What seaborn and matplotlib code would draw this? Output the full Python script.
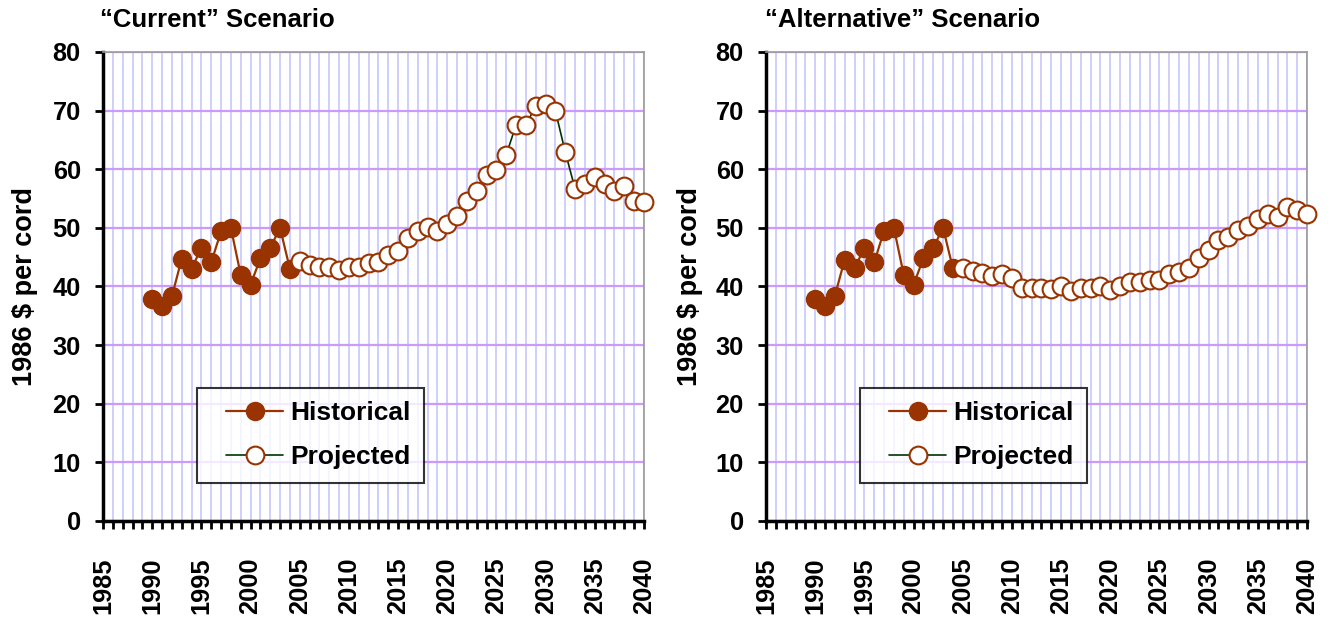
import matplotlib
matplotlib.use("Agg")
import matplotlib.pyplot as plt
from matplotlib.ticker import MultipleLocator
from matplotlib.lines import Line2D
from matplotlib.legend_handler import HandlerLine2D
import numpy as np
import pandas as pd
import seaborn as sns

# ---------------- data ----------------
hist_years = list(range(1990, 2005))
hist_current = [37.8, 36.7, 38.3, 44.7, 43.0, 46.6, 44.1, 49.4, 50.0, 42.0,
                40.3, 44.8, 46.6, 50.0, 43.0]
hist_alternative = [37.8, 36.7, 38.4, 44.6, 43.1, 46.6, 44.1, 49.5, 50.0, 42.0,
                    40.3, 44.8, 46.6, 50.0, 43.1]

proj_years = list(range(2005, 2041))
proj_current = [44.4, 43.6, 43.3, 43.3, 42.8, 43.3, 43.3, 44.0, 44.2, 45.3,
                46.0, 48.2, 49.4, 50.1, 49.5, 50.7, 52.0, 54.6, 56.3, 59.1,
                59.9, 62.5, 67.6, 67.6, 70.8, 71.1, 69.9, 62.9, 56.6, 57.5,
                58.6, 57.5, 56.3, 57.2, 54.6, 54.4]
proj_alternative = [43.1, 42.6, 42.3, 41.8, 42.1, 41.5, 39.7, 39.7, 39.7, 39.5,
                    40.0, 39.3, 39.8, 39.8, 40.0, 39.4, 40.1, 40.7, 40.7, 41.1,
                    41.1, 42.1, 42.4, 43.2, 44.8, 46.3, 48.0, 48.5, 49.6, 50.3,
                    51.5, 52.3, 51.9, 53.6, 53.1, 52.4]

titles = ["\u201cCurrent\u201d Scenario", "\u201cAlternative\u201d Scenario"]
series_labels = ["Historical", "Projected"]
y_label = "1986 $ per cord"
x_tick_values = list(range(1985, 2041, 5))
y_tick_values = list(range(0, 81, 10))

# ---------------- style ----------------
sns.set_theme(style="white")
plt.rcParams["font.family"] = ["Liberation Sans", "DejaVu Sans"]
plt.rcParams["font.weight"] = "bold"
plt.rcParams["text.color"] = "black"
plt.rcParams["axes.labelcolor"] = "black"
plt.rcParams["xtick.color"] = "black"
plt.rcParams["ytick.color"] = "black"

BROWN = "#993300"
GREEN = "#003300"
VGRID = "#CCCCFF"
HGRID = "#CC99FF"
TICK_FS = 18.3
LEG_FS = 19
YLAB_FS = 19.5
TITLE_FS = 18.5


class PaddedLineHandler(HandlerLine2D):
    """Legend line handle that starts a little inside the handle box."""
    def __init__(self, lpad=0.6, **kw):
        super().__init__(**kw)
        self.lpad = lpad

    def get_xdata(self, legend, xdescent, ydescent, width, height, fontsize):
        x0 = -xdescent + self.lpad * fontsize
        x1 = -xdescent + width
        return np.array([x0, x1]), np.array([0.5 * (x0 + x1)])


fig = plt.figure(figsize=(13.32, 6.28), dpi=100)
axes = [fig.add_axes([0.07733, 0.1704, 0.40616, 0.7468]),
        fig.add_axes([0.57508, 0.1704, 0.40616, 0.7468])]

panels = [(hist_current, proj_current), (hist_alternative, proj_alternative)]
ylabel_x = [-0.12, -0.117]
title_x = [-0.0055, -0.002]

for ax, (hv, pv), title, ylx, tx in zip(axes, panels, titles, ylabel_x, title_x):
    dfh = pd.DataFrame({"year": hist_years, "price": hv})
    dfp = pd.DataFrame({"year": proj_years, "price": pv})
    sns.lineplot(data=dfh, x="year", y="price", ax=ax, color=BROWN, lw=1.6,
                 marker="o", markersize=12.8, markerfacecolor=BROWN,
                 markeredgecolor=BROWN, markeredgewidth=1.2,
                 label=series_labels[0], clip_on=False, zorder=3)
    sns.lineplot(data=dfp, x="year", y="price", ax=ax, color=GREEN, lw=1.2,
                 marker="o", markersize=12.8, markerfacecolor="white",
                 markeredgecolor=BROWN, markeredgewidth=1.5,
                 label=series_labels[1], clip_on=False, zorder=4)

    ax.set_xlim(1985, 2040)
    ax.set_ylim(0, 80)
    ax.set_xticks(x_tick_values)
    ax.set_xticklabels([str(v) for v in x_tick_values], rotation=90,
                       fontsize=TICK_FS, fontweight="bold", color="black")
    ax.xaxis.set_minor_locator(MultipleLocator(1))
    ax.set_yticks(y_tick_values)
    ax.set_yticklabels([str(v) for v in y_tick_values], fontsize=TICK_FS,
                       fontweight="bold", color="black")

    ax.grid(which="both", axis="x", color=VGRID, lw=1.3, zorder=0)
    ax.grid(which="major", axis="y", color=HGRID, lw=1.6, zorder=0)
    ax.set_axisbelow(True)

    ax.tick_params(axis="x", which="both", direction="out", length=6,
                   width=2, color="black", pad=20, bottom=True)
    ax.tick_params(axis="y", which="major", direction="out", length=6,
                   width=2, color="black", pad=10, left=True)

    for s in ["left", "bottom"]:
        ax.spines[s].set_color("black")
        ax.spines[s].set_linewidth(2.5)
    for s in ["top", "right"]:
        ax.spines[s].set_color("#999999")
        ax.spines[s].set_linewidth(1.2)

    ax.set_xlabel("")
    ax.set_ylabel(y_label, fontsize=YLAB_FS, fontweight="bold", color="black")
    ax.yaxis.set_label_coords(ylx, 0.5)

    ax.text(tx, 1.053, title, transform=ax.transAxes, fontsize=TITLE_FS,
            fontweight="bold", ha="left", va="baseline", color="black")

    leg = ax.legend(loc="upper left", bbox_to_anchor=(0.174, 0.284),
                    frameon=True, fancybox=False, edgecolor="black",
                    prop={"size": LEG_FS, "weight": "bold"},
                    handlelength=2.77, borderpad=0.5, labelspacing=0.77,
                    handletextpad=0.27, borderaxespad=0,
                    handler_map={Line2D: PaddedLineHandler(lpad=0.6)})
    leg.get_frame().set_linewidth(1.5)
    for t in leg.get_texts():
        t.set_color("black")

fig.savefig("out.png", dpi=100)
